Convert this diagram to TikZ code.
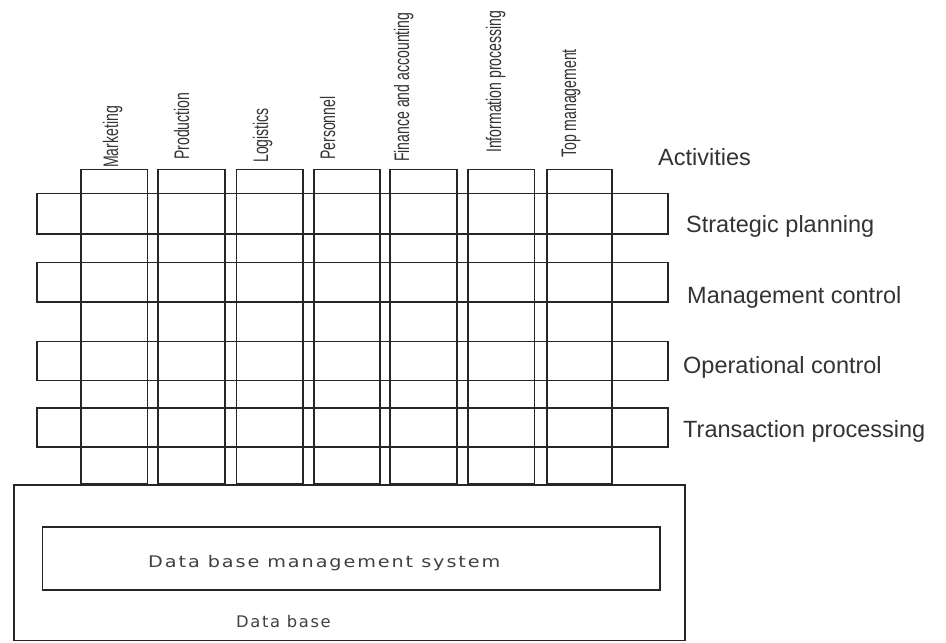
\documentclass[tikz,border=0pt]{standalone}
\usepackage{fontspec}
\setmainfont{Liberation Sans}
\newfontfamily\dbfont[LetterSpace=10]{DejaVu Sans}
\usetikzlibrary{positioning}
\begin{document}
\begin{tikzpicture}[x=1pt,y=-1pt,
  frame/.style={draw=black!85, line width=1.9pt, inner sep=0pt, outer sep=0pt, rectangle},
  actlabel/.style={rotate=90, anchor=base west, inner sep=0pt, text=black!80,
    font=\fontsize{21}{21}\selectfont},
  levellabel/.style={anchor=base west, inner sep=0pt, text=black!80,
    font=\fontsize{23.5}{24}\selectfont},
  dblabel/.style={anchor=base west, inner sep=0pt, text=black!75,
    font=\dbfont\fontsize{16}{17}\selectfont}]
\useasboundingbox (0,0) rectangle (946,643);

% functional columns
\foreach \cx/\w [count=\i] in {114.25/66.5, 191.5/67, 269.75/66.5, 347/66, 423.5/67, 501.25/66.5, 579.5/65}
  \node[frame, minimum width=\w pt, minimum height=314.5pt] (col\i) at (\cx,326.75) {};

% management levels
\node[frame, minimum width=631pt, minimum height=40.5pt] (strat) at (352.5,213.75) {};
\node[frame, minimum width=631pt, minimum height=39.5pt] (mgmt)  at (352.5,282.25) {};
\node[frame, minimum width=631pt, minimum height=39pt]   (oper)  at (352.5,361) {};
\node[frame, minimum width=631pt, minimum height=39pt]   (trans) at (352.5,427.5) {};

% data base and its management system
\node[frame, minimum width=671pt, minimum height=155.5pt] (db) at (349.5,562.75) {};
\node[frame, minimum width=617.5pt, minimum height=63pt] (dbms) at (351.25,558.5) {};
\node[dblabel] (dbmstext) at (148,567) {\scalebox{1.2}[1]{Data base management system}};
\node[dblabel] (dbtext) at (236,627) {\scalebox{1.02}[1]{Data base}};

% activity labels
\node[actlabel] (lmark) at (118,168) {\scalebox{0.67}[1]{Marketing}};
\node[actlabel] (lprod) at (189,160) {\scalebox{0.67}[1]{Production}};
\node[actlabel] (llog)  at (268,163) {\scalebox{0.67}[1]{Logistics}};
\node[actlabel] (lpers) at (335,160) {\scalebox{0.67}[1]{Personnel}};
\node[actlabel] (lfin)  at (409,162) {\scalebox{0.67}[1]{Finance and accounting}};
\node[actlabel] (linfo) at (501,153) {\scalebox{0.67}[1]{Information processing}};
\node[actlabel] (ltop)  at (576,158) {\scalebox{0.67}[1]{Top management}};

% level labels
\node[levellabel] (lact)   at (658,165) {Activities};
\node[levellabel] (lstrat) at (686,232) {Strategic planning};
\node[levellabel] (lmgmt)  at (687,303) {Management control};
\node[levellabel] (loper)  at (683,373) {Operational control};
\node[levellabel] (ltrans) at (683,437.5) {Transaction processing};
\end{tikzpicture}
\end{document}
